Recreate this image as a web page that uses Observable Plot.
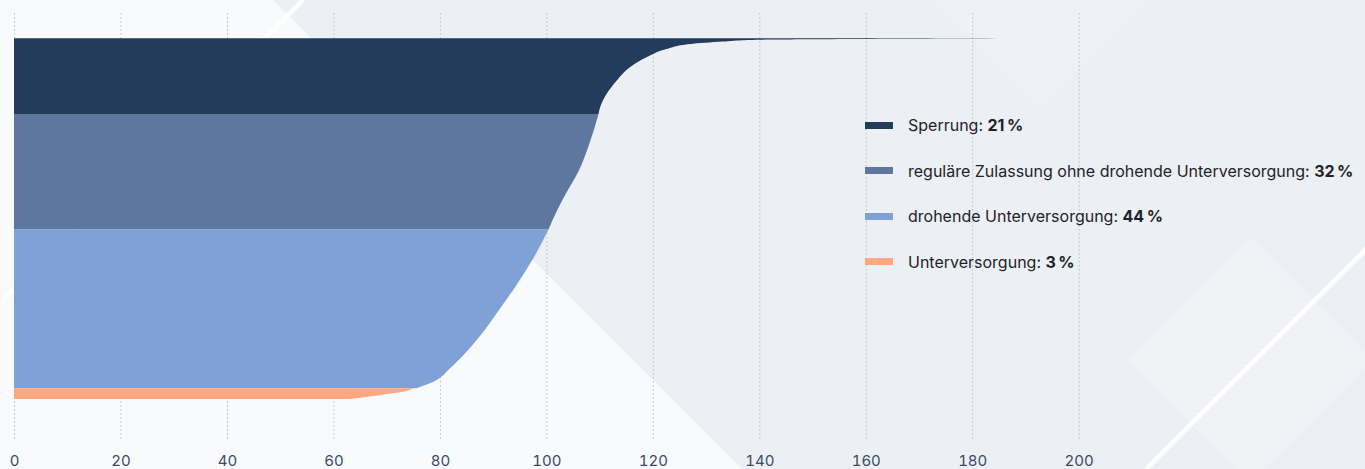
<!DOCTYPE html>
<html>
<head>
<meta charset="utf-8">
<script src="https://cdn.jsdelivr.net/npm/d3@7"></script>
<script src="https://cdn.jsdelivr.net/npm/@observablehq/plot@0.6"></script>
<style>
  html, body { margin: 0; padding: 0; }
  body { width: 1365px; height: 469px; overflow: hidden; position: relative; background: #eceff4; font-family: Inter, Lato, sans-serif; }
  #bg, #chart { position: absolute; left: 0; top: 0; }
  #legend { position: absolute; left: 865px; top: 113px; }
  .row { display: flex; align-items: center; height: 24px; margin-bottom: 21.6px; font-size: 16px; color: #1f2329; white-space: nowrap; }
  .sw { width: 28px; height: 7px; margin-right: 15px; flex: none; }
  .row b { font-weight: 700; }
</style>
</head>
<body>
<svg id="bg" width="1365" height="469">
  <rect width="1365" height="469" fill="#eceff4"/>
  <polygon points="933,0 1040,107 1147,0" fill="#eef1f5"/>
  <polygon points="0,0 273,0 742,469 0,469" fill="#f9fafc"/>
  <line x1="303" y1="0" x2="-166" y2="469" stroke="#ffffff" stroke-width="5" stroke-opacity="0.85"/>
  <polygon points="1250,237 1373,360 1250,483 1127,360" fill="#f0f2f6"/>
  <line x1="1615" y1="0" x2="1146" y2="469" stroke="#ffffff" stroke-width="4.5"/>
</svg>
<div id="chart"></div>
<div id="legend"></div>
<script>
// Planning regions sorted by Versorgungsgrad (%), grouped by their admission status.
const bands = ["Sperrung", "reguläre Zulassung ohne drohende Unterversorgung", "drohende Unterversorgung", "Unterversorgung"];
const shares = [21, 32, 44, 3];
const colors = ["#233c5a", "#5d77a0", "#7fa1d5", "#ffa87f"];

// position within the sorted list (% of regions) and Versorgungsgrad at that position
const rankSperrung   = [0, 0.45, 0.9, 1.58, 2.97, 5.27, 8.04, 11.75, 15.44, 19.13, 21];
const valueSperrung  = [189, 138.3, 133.2, 127, 122.6, 118.8, 115.7, 113.2, 111.3, 110.1, 109.8];
const rankRegulaer   = [21, 28.7, 37, 43.5, 48.1, 53];
const valueRegulaer  = [109.8, 108.2, 106, 103.5, 101.9, 100.4];
const rankDrohend    = [53, 61, 68.4, 74.9, 81.3, 86.9, 91.5, 95.2, 97];
const valueDrohend   = [100.4, 97.55, 94.4, 91.3, 88.2, 85, 81.9, 78.8, 75.6];
const rankUnter      = [97, 98, 98.75, 100];
const valueUnter     = [75, 73, 69.5, 63.1];

const xTicks = [0, 20, 40, 60, 80, 100, 120, 140, 160, 180, 200];

const series = [
  [rankSperrung, valueSperrung],
  [rankRegulaer, valueRegulaer],
  [rankDrohend, valueDrohend],
  [rankUnter, valueUnter]
];
const rows = series.flatMap(([ranks, values], i) =>
  ranks.map((r, j) => ({band: bands[i], rank: r, value: values[j]}))
);

const chart = Plot.plot({
  width: 1365,
  height: 469,
  marginTop: 13,
  marginBottom: 28,
  marginLeft: 14,
  marginRight: 0,
  style: {background: "transparent", fontFamily: "Inter, Lato, sans-serif"},
  x: {domain: [0, 200], range: [14, 1078.7]},
  y: {domain: [0, 100], range: [38.3, 399], axis: null},
  color: {domain: bands, range: colors},
  marks: [
    Plot.gridX(xTicks, {stroke: "#b9bec7", strokeOpacity: 1, strokeWidth: 1, strokeDasharray: "1.5,2.5"}),
    // each band runs from 0 out to its sorted values (no stacking)
    Plot.areaX(rows, {x1: 0, x2: "value", y: "rank", z: "band", fill: "band", curve: "monotone-y"}),
    Plot.axisX(xTicks, {tickSize: 0, tickPadding: 14, fontSize: 15, fill: "#3a4a63", label: null})
  ]
});
document.getElementById("chart").appendChild(chart);

const legend = document.getElementById("legend");
bands.forEach((b, i) => {
  const row = document.createElement("div");
  row.className = "row";
  const sw = document.createElement("span");
  sw.className = "sw";
  sw.style.background = colors[i];
  const label = document.createElement("span");
  label.textContent = b + ": ";
  const val = document.createElement("b");
  val.textContent = shares[i] + "\u202f%";
  label.appendChild(val);
  row.appendChild(sw);
  row.appendChild(label);
  legend.appendChild(row);
});
</script>
</body>
</html>
